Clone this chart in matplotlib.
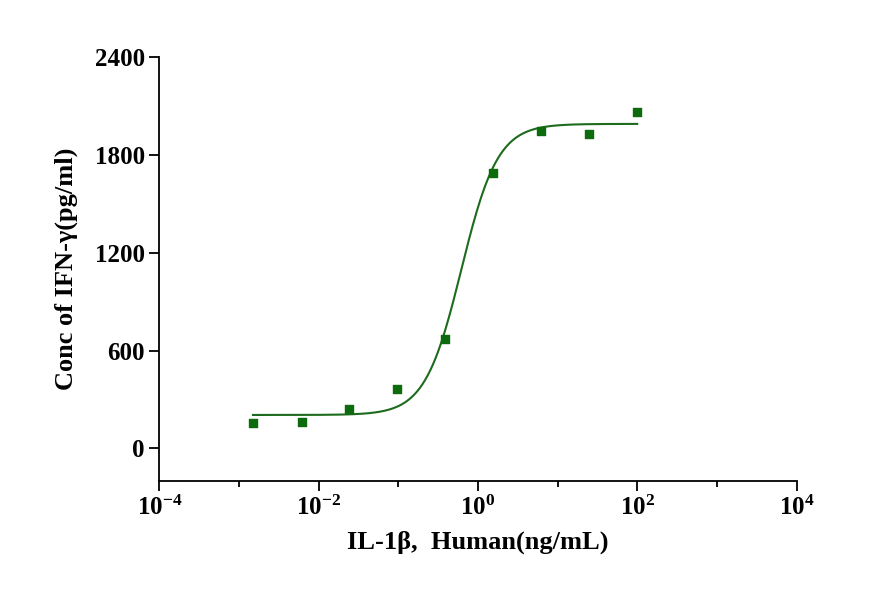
import numpy as np
import matplotlib
matplotlib.use("Agg")
import matplotlib.pyplot as plt
from matplotlib.ticker import FixedLocator, NullFormatter

# measured points
conc = [0.0015, 0.0061, 0.0244, 0.0977, 0.39, 1.5625, 6.25, 25, 100]
ifn = [153, 159, 239, 367, 673, 1690, 1947, 1929, 2063]

# 4PL fit parameters
bottom, top, ec50, hill = 205, 1990, 0.62, 1.9

plt.rcParams["font.family"] = "Liberation Serif"
plt.rcParams["font.weight"] = "bold"

fig = plt.figure(figsize=(8.85, 6.14), dpi=100)
ax = fig.add_axes([0.18, 0.2166, 0.72, 0.6905])

xs = np.logspace(np.log10(conc[0]), np.log10(conc[-1]), 300)
ys = bottom + (top - bottom) / (1 + (ec50 / xs) ** hill)
ax.plot(xs, ys, color="#1e6b1e", lw=1.5)
ax.scatter(conc, ifn, marker="s", s=36, color="#0d6b0d", zorder=3)

ax.set_xscale("log")
ax.set_xlim(1e-4, 1e4)
ax.set_ylim(-200, 2400)
ax.xaxis.set_major_locator(FixedLocator([1e-4, 1e-2, 1e0, 1e2, 1e4]))
ax.xaxis.set_minor_locator(FixedLocator([1e-3, 1e-1, 1e1, 1e3]))
ax.xaxis.set_minor_formatter(NullFormatter())
ax.set_yticks([0, 600, 1200, 1800, 2400])
ax.spines["top"].set_visible(False)
ax.spines["right"].set_visible(False)
for s in ("left", "bottom"):
    ax.spines[s].set_linewidth(1.3)
ax.tick_params(which="major", length=7, width=1.3, labelsize=18)
ax.tick_params(which="minor", length=4, width=1.3)
ax.set_xlabel("IL-1β,  Human(ng/mL)", fontsize=19, fontweight="bold", labelpad=8)
ax.set_ylabel("Conc of IFN-γ(pg/ml)", fontsize=19, fontweight="bold", labelpad=12)

fig.savefig("out.png", dpi=100)
